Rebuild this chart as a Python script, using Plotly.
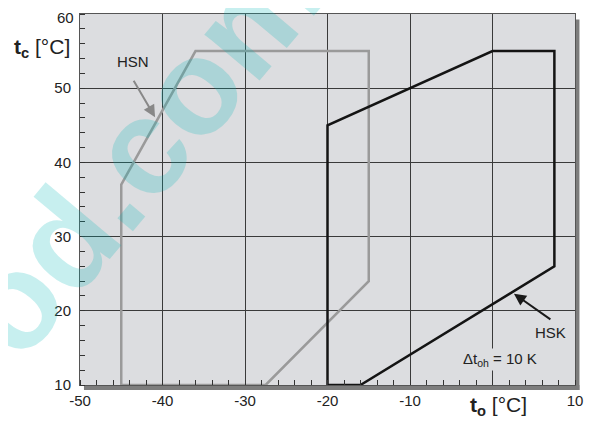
import plotly.graph_objects as go

# HSN envelope (t_o, t_c)
hsn_to = [-45, -45, -36, -15, -15, -27.5, -45]
hsn_tc = [10, 37, 55, 55, 24, 10, 10]
# HSK envelope
hsk_to = [-20, -20, 0, 7.5, 7.5, -16, -20]
hsk_tc = [10, 45, 55, 55, 26, 10, 10]

x_ticks = [-50, -40, -30, -20, -10, 0, 10]
x_tick_labels = ["-50", "-40", "-30", "-20", "-10", "", "10"]
y_ticks = [10, 20, 30, 40, 50, 60]
y_tick_labels = ["10", "20", "30", "40", "50", ""]  # "60" drawn separately, nudged down

FONT = "Liberation Sans, Arial, sans-serif"

fig = go.Figure()
fig.add_trace(go.Scatter(x=hsn_to, y=hsn_tc, mode="lines",
                         line=dict(color="#9a9a9a", width=2.5), showlegend=False,
                         cliponaxis=False))
fig.add_trace(go.Scatter(x=hsk_to, y=hsk_tc, mode="lines",
                         line=dict(color="#141414", width=2.5), showlegend=False,
                         cliponaxis=False))

axis_common = dict(showgrid=True, gridcolor="#3a3a3a", gridwidth=1,
                   showline=True, linecolor="#555555", linewidth=1, mirror=True,
                   zeroline=False, ticks="", automargin=False, ticklabeloverflow="allow",
                   tickfont=dict(family=FONT, size=15, color="#222"))

fig.update_xaxes(range=[-50, 10], tickvals=x_ticks, ticktext=x_tick_labels,
                 minor=dict(dtick=2, tick0=0, ticks="inside", ticklen=5, tickcolor="#333",
                            showgrid=False),
                 ticklabelstandoff=2, **axis_common)
fig.update_yaxes(range=[10, 60], tickvals=y_ticks, ticktext=y_tick_labels,
                 minor=dict(dtick=2, tick0=0, ticks="inside", ticklen=5, tickcolor="#333",
                            showgrid=False),
                 ticklabelstandoff=5, **axis_common)

# drop shadow of the plot frame
fig.add_shape(type="rect", xref="paper", yref="paper", x0=1.0, x1=1.009, y0=-0.0135, y1=0.985,
              fillcolor="#7d7d7d", line_width=0, layer="below")
fig.add_shape(type="rect", xref="paper", yref="paper", x0=0.008, x1=1.009, y0=-0.0135, y1=0.0,
              fillcolor="#7d7d7d", line_width=0, layer="below")

annotations = [
    # watermark
    dict(x=0.121, y=0.633, xref="paper", yref="paper", xanchor="center", yanchor="middle",
         text="<b>od.com</b>", showarrow=False,
         textangle=-50, font=dict(family=FONT, size=136, color="rgba(0,180,180,0.22)")),
    dict(x=0, y=1, xref="paper", yref="paper", xanchor="right", yanchor="middle",
         xshift=-4, yshift=-3, text="60", showarrow=False,
         font=dict(family=FONT, size=15, color="#222")),
    dict(x=-40.9, y=46.1, ax=-43.6, ay=51.2, axref="x", ayref="y", xref="x", yref="y",
         text="", showarrow=True, arrowhead=2, arrowsize=1.2, arrowwidth=2, arrowcolor="#888888"),
    dict(x=-43.6, y=53.6, xref="x", yref="y", text="HSN", showarrow=False,
         font=dict(family=FONT, size=15, color="#222")),
    dict(x=2.6, y=22.3, ax=7.2, ay=18.7, axref="x", ayref="y", xref="x", yref="y",
         text="", showarrow=True, arrowhead=2, arrowsize=1.2, arrowwidth=2, arrowcolor="#1a1a1a"),
    dict(x=7.0, y=17.1, xref="x", yref="y", text="HSK", showarrow=False,
         font=dict(family=FONT, size=15, color="#222")),
    dict(x=0.9, y=13.5, xref="x", yref="y", text="Δt<sub>oh</sub> = 10 K", showarrow=False,
         bgcolor="#dcdde0", font=dict(family=FONT, size=15, color="#222")),
    dict(x=-0.077, y=0.908, xref="paper", yref="paper", xanchor="center", yanchor="middle",
         text="<b>t</b><sub><b>c</b></sub> [°C]", showarrow=False,
         font=dict(family=FONT, size=21, color="#222")),
    dict(x=0.846, y=-0.057, xref="paper", yref="paper", xanchor="center", yanchor="middle",
         text="<b>t</b><sub><b>o</b></sub> [°C]", showarrow=False,
         font=dict(family=FONT, size=21, color="#222")),
]
fig.update_layout(annotations=annotations)

# the page body adds an 8 px offset, so the figure is 8 px smaller than the window
fig.update_layout(width=586, height=416,
                  margin=dict(l=72, r=19, t=6, b=39, autoexpand=False),
                  plot_bgcolor="#dcdde0", paper_bgcolor="white",
                  font=dict(family=FONT))

fig.write_html("out.html")
